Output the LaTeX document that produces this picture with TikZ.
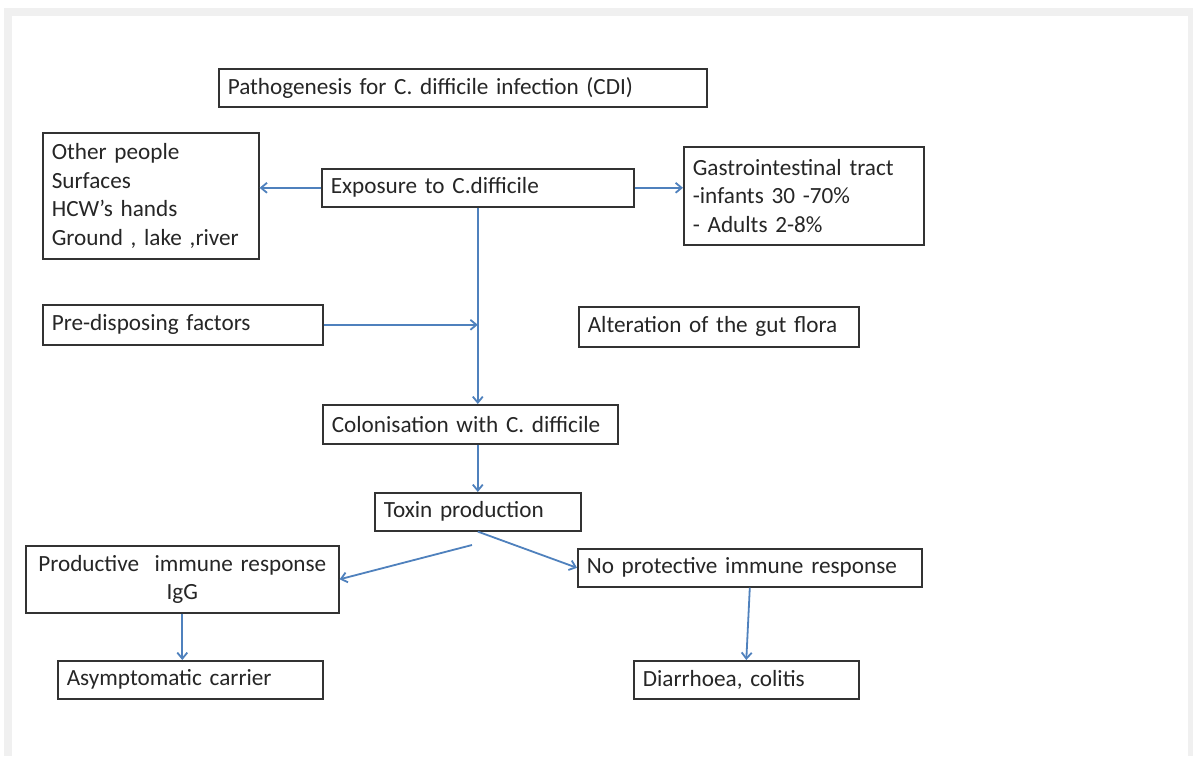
\documentclass[tikz,border=0pt]{standalone}
\usepackage{fontspec}
\setmainfont{Carlito}
\usetikzlibrary{arrows.meta}
\definecolor{arrowblue}{RGB}{79,129,189}
\definecolor{panelgray}{RGB}{240,240,240}

\begin{document}
\begin{tikzpicture}[x=1pt, y=-1pt,
    box/.style={draw=black!80, line width=1.6pt, anchor=north west,
      inner xsep=9pt, inner ysep=0pt, align=left, text=black!85,
      font=\fontsize{23.2}{28.7}\selectfont},
    flow/.style={draw=arrowblue, line width=1.8pt,
      -{Straight Barb[length=6pt, width=10pt]}}]
    \useasboundingbox (0,0) rectangle (1193,756);
    \fill[panelgray] (4,8) rectangle (1193,756);
    \fill[white] (12,16) rectangle (1188,756);

    \node[box, text width=470pt, minimum height=38pt] (title) at (218,68)
      {Pathogenesis for C. difficile infection (CDI)};
    \node[box, text width=198pt, minimum height=126pt] (sources) at (42,132)
      {Other people\\Surfaces\\HCW’s hands\\Ground , lake ,river};
    \node[box, text width=294pt, minimum height=38pt] (expo) at (321,168)
      {Exposure to C.difficile};
    \node[box, text width=222pt, minimum height=98pt] (gi) at (683,146)
      {Gastrointestinal tract\\-infants 30 -70\%\\- Adults 2-8\%};
    \node[box, text width=262pt, minimum height=40pt] (pre) at (42,304)
      {Pre-disposing factors};
    \node[box, text width=262pt, minimum height=40pt] (alter) at (578,306)
      {Alteration of the gut flora};
    \node[box, text width=277pt, minimum height=39pt] (colon) at (322,404)
      {Colonisation with C. difficile};
    \node[box, text width=188pt, minimum height=38pt] (toxin) at (374,492)
      {Toxin production};
    \node[box, text width=295pt, minimum height=67pt, align=center] (prod) at (25,545)
      {Productive\ \ immune response\\IgG};
    \node[box, text width=326pt, minimum height=38pt] (noprot) at (577,548)
      {No protective immune response};
    \node[box, text width=247pt, minimum height=38pt] (asym) at (57,660)
      {Asymptomatic carrier};
    \node[box, text width=207pt, minimum height=38pt] (diarr) at (633,660)
      {Diarrhoea, colitis};

    \coordinate (split) at (472,545);
    \path[flow] (expo.west) -- (expo.west -| sources.east);
    \path[flow] (expo.east) -- (expo.east -| gi.west);
    \path[flow] (expo.south) -- (expo.south |- colon.north);
    \path[flow] (pre.east) -- (pre.east -| expo.south);
    \path[flow] (colon.south -| toxin.north) -- (toxin.north);
    \path[flow] (split) -- (prod.east);
    \path[flow] (toxin.south) -- (noprot.west);
    \path[flow] (prod.south) -- (prod.south |- asym.north);
    \path[flow] (noprot.south) -- (diarr.north);
\end{tikzpicture}
\end{document}
